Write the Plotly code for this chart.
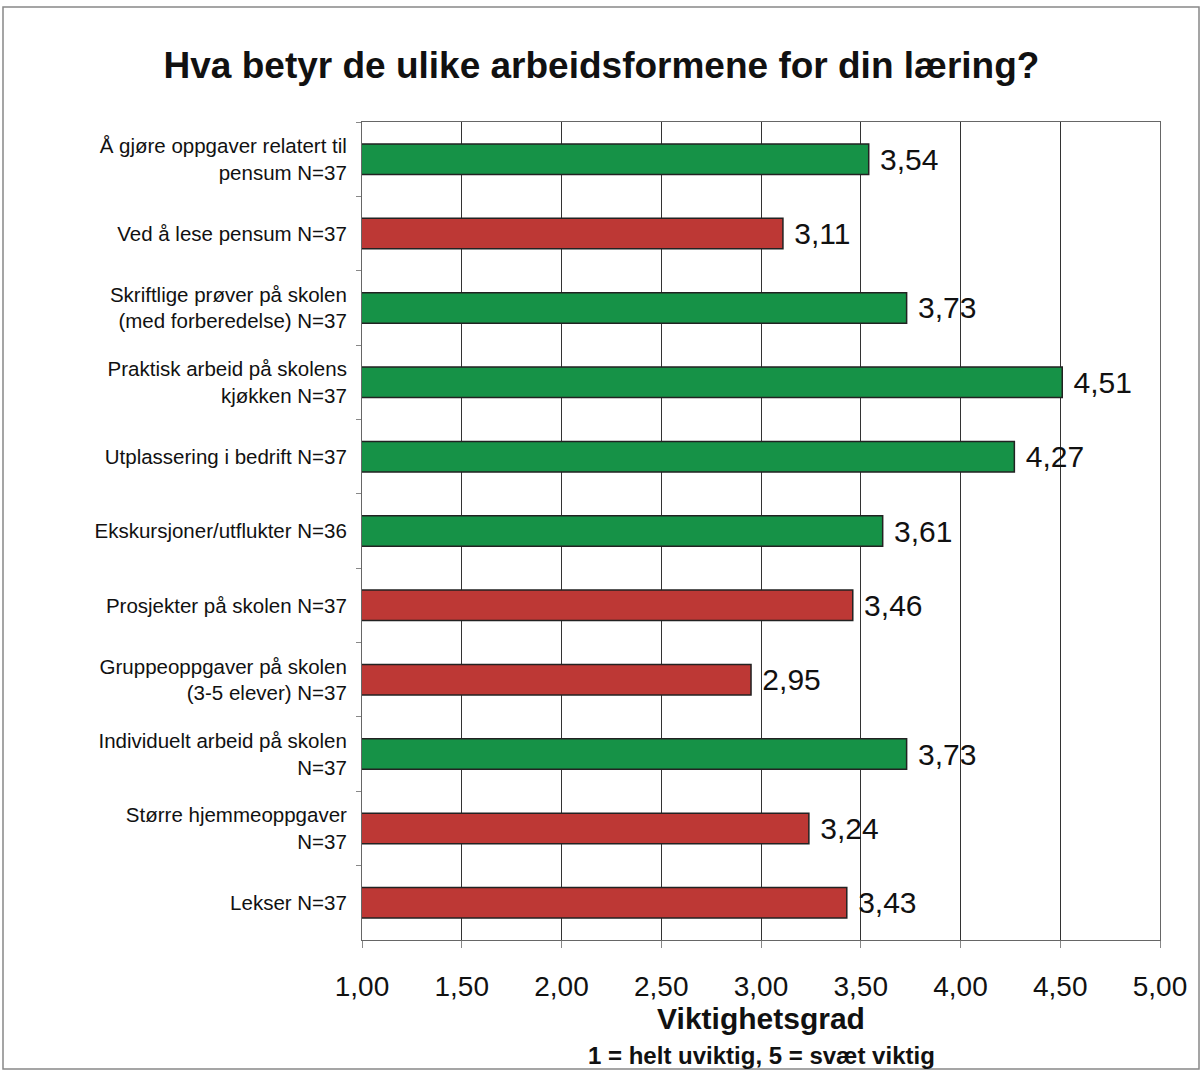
import plotly.graph_objects as go

categories = [
    "Å gjøre oppgaver relatert til<br>pensum N=37",
    "Ved å lese pensum N=37",
    "Skriftlige prøver på skolen<br>(med forberedelse) N=37",
    "Praktisk arbeid på skolens<br>kjøkken N=37",
    "Utplassering i bedrift N=37",
    "Ekskursjoner/utflukter N=36",
    "Prosjekter på skolen N=37",
    "Gruppeoppgaver på skolen<br>(3-5 elever) N=37",
    "Individuelt arbeid på skolen<br>N=37",
    "Større hjemmeoppgaver<br>N=37",
    "Lekser N=37",
]
values = [3.54, 3.11, 3.73, 4.51, 4.27, 3.61, 3.46, 2.95, 3.73, 3.24, 3.43]
tick_vals = [1.0, 1.5, 2.0, 2.5, 3.0, 3.5, 4.0, 4.5, 5.0]
tick_text = ["1,00", "1,50", "2,00", "2,50", "3,00", "3,50", "4,00", "4,50", "5,00"]

GREEN = "#169247"
RED = "#bd3835"
colors = [GREEN if v >= 3.5 else RED for v in values]
labels = [" " + f"{v:.2f}".replace(".", ",") for v in values]

FONT = "Liberation Sans, Arial, Helvetica, sans-serif"

fig = go.Figure(
    go.Bar(
        x=values,
        y=categories,
        base=0,
        orientation="h",
        marker=dict(color=colors, line=dict(color="#222222", width=1.5)),
        width=0.41,
        text=labels,
        textposition="outside",
        constraintext="none",
        cliponaxis=False,
        textfont=dict(family=FONT, size=30, color="#111111"),
        hoverinfo="skip",
    )
)

fig.update_layout(
    width=1201,
    height=1073,
    margin=dict(l=362, r=41, t=122, b=133),
    paper_bgcolor="white",
    plot_bgcolor="white",
    showlegend=False,
    font=dict(family=FONT, color="#111111"),
    title=dict(
        text="<b>Hva betyr de ulike arbeidsformene for din læring?</b>",
        x=(163 + 1040) / 2 / 1201,
        xanchor="center",
        y=1 - 65 / 1073,
        yanchor="middle",
        font=dict(family=FONT, size=37, color="#111111"),
    ),
    xaxis=dict(
        range=[1, 5],
        tickvals=tick_vals,
        ticktext=tick_text,
        tickfont=dict(family=FONT, size=28, color="#111111"),
        showgrid=True,
        gridcolor="#333333",
        gridwidth=1,
        zeroline=False,
        showline=True,
        linecolor="#666666",
        linewidth=1,
        mirror=True,
        ticks="outside",
        ticklen=7,
        tickcolor="#888888",
        ticklabelstandoff=14,
        title=dict(
            text="<b>Viktighetsgrad</b>",
            font=dict(family=FONT, size=30, color="#111111"),
            standoff=6,
        ),
    ),
    yaxis=dict(
        autorange="reversed",
        tickfont=dict(family=FONT, size=20.5, color="#111111"),
        showline=True,
        linecolor="#666666",
        linewidth=1,
        mirror=True,
        ticks="outside",
        tickson="boundaries",
        ticklen=5,
        tickcolor="#888888",
        showgrid=False,
        ticklabelstandoff=10,
    ),
    annotations=[
        dict(
            text="<b>1 = helt uviktig, 5 = svæt viktig</b>",
            xref="paper",
            yref="paper",
            x=0.5,
            y=-(1055 - 940) / (940 - 122),
            xanchor="center",
            yanchor="middle",
            showarrow=False,
            font=dict(family=FONT, size=24, color="#111111"),
        )
    ],
    shapes=[
        dict(
            type="rect",
            xref="paper",
            yref="paper",
            x0=(3 - 362) / 798,
            x1=(1199 - 362) / 798,
            y0=(940 - 1069) / 818,
            y1=(940 - 7) / 818,
            line=dict(color="#888888", width=1.5),
            layer="below",
        )
    ],
)

fig.write_html("out.html")
